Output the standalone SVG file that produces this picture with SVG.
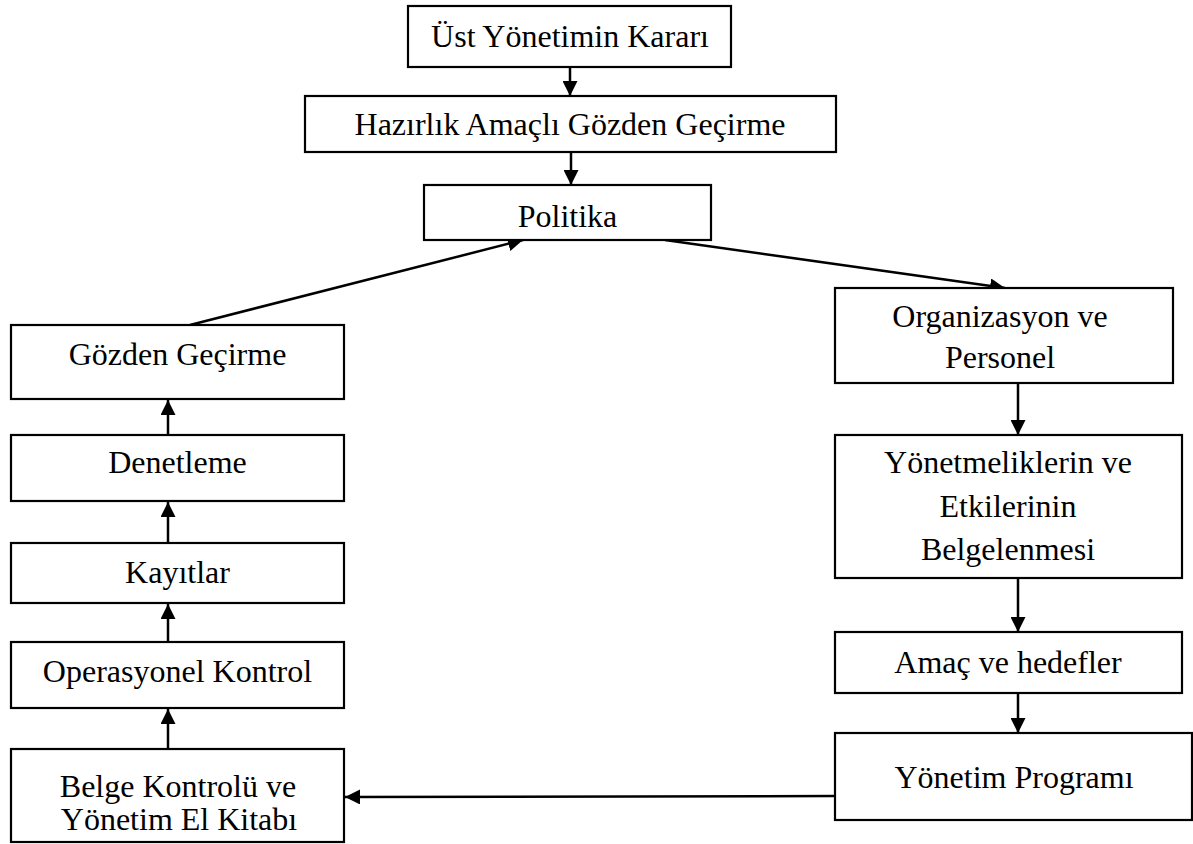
<svg xmlns="http://www.w3.org/2000/svg" width="1193" height="844" viewBox="0 0 1193 844">
<style>
.box{fill:#fff;stroke:#000;stroke-width:2.2}
.t{font-family:"Liberation Serif","Times New Roman",serif;font-size:32px;fill:#000;text-anchor:middle}
.c{stroke:#000;stroke-width:2.5;fill:none}
</style>
<defs>
<marker id="ah" markerUnits="userSpaceOnUse" markerWidth="16" markerHeight="15" refX="15" refY="7.5" orient="auto">
<path d="M0,0 L15,7.5 L0,15 z" fill="#000"/>
</marker>
</defs>
<rect width="1193" height="844" fill="#fff"/>
<g id="connectors">
<line class="c" x1="570" y1="67" x2="570" y2="96" marker-end="url(#ah)"/>
<line class="c" x1="571" y1="152" x2="571" y2="185" marker-end="url(#ah)"/>
<line class="c" x1="190" y1="325" x2="523" y2="240" marker-end="url(#ah)"/>
<line class="c" x1="665" y1="240" x2="1005" y2="288" marker-end="url(#ah)"/>
<line class="c" x1="1018" y1="383" x2="1018" y2="435" marker-end="url(#ah)"/>
<line class="c" x1="1018" y1="578" x2="1018" y2="632" marker-end="url(#ah)"/>
<line class="c" x1="1018" y1="693" x2="1018" y2="733" marker-end="url(#ah)"/>
<line class="c" x1="835" y1="796" x2="345" y2="797" marker-end="url(#ah)"/>
<line class="c" x1="168" y1="749" x2="168" y2="709" marker-end="url(#ah)"/>
<line class="c" x1="168" y1="642" x2="168" y2="604" marker-end="url(#ah)"/>
<line class="c" x1="168" y1="543" x2="168" y2="502" marker-end="url(#ah)"/>
<line class="c" x1="168" y1="435" x2="168" y2="400" marker-end="url(#ah)"/>
</g>
<g id="n1"><rect class="box" x="408" y="6" width="323" height="61"/><text class="t" x="570" y="47">Üst Yönetimin Kararı</text></g>
<g id="n2"><rect class="box" x="305" y="96" width="531" height="56"/><text class="t" x="570" y="135">Hazırlık Amaçlı Gözden Geçirme</text></g>
<g id="n3"><rect class="box" x="424" y="185" width="287" height="55"/><text class="t" x="567.5" y="227">Politika</text></g>
<g id="n4"><rect class="box" x="11" y="325" width="333" height="74"/><text class="t" x="177.5" y="365">Gözden Geçirme</text></g>
<g id="n5"><rect class="box" x="11" y="435" width="333" height="66"/><text class="t" x="177.5" y="473">Denetleme</text></g>
<g id="n6"><rect class="box" x="11" y="543" width="333" height="60"/><text class="t" x="177.5" y="583">Kayıtlar</text></g>
<g id="n7"><rect class="box" x="11" y="642" width="333" height="66"/><text class="t" x="177.5" y="682">Operasyonel Kontrol</text></g>
<g id="n8"><rect class="box" x="11" y="749" width="333" height="93"/><text class="t" x="178" y="797">Belge Kontrolü ve</text><text class="t" x="179" y="830">Yönetim El Kitabı</text></g>
<g id="n9"><rect class="box" x="835" y="288" width="338" height="95"/><text class="t" x="1000" y="327">Organizasyon ve</text><text class="t" x="1000" y="368">Personel</text></g>
<g id="n10"><rect class="box" x="835" y="435" width="347" height="143"/><text class="t" x="1008" y="473">Yönetmeliklerin ve</text><text class="t" x="1008" y="517">Etkilerinin</text><text class="t" x="1008" y="560">Belgelenmesi</text></g>
<g id="n11"><rect class="box" x="835" y="632" width="347" height="61"/><text class="t" x="1008" y="673">Amaç ve hedefler</text></g>
<g id="n12"><rect class="box" x="835" y="733" width="357" height="87"/><text class="t" x="1014" y="788">Yönetim Programı</text></g>
</svg>
